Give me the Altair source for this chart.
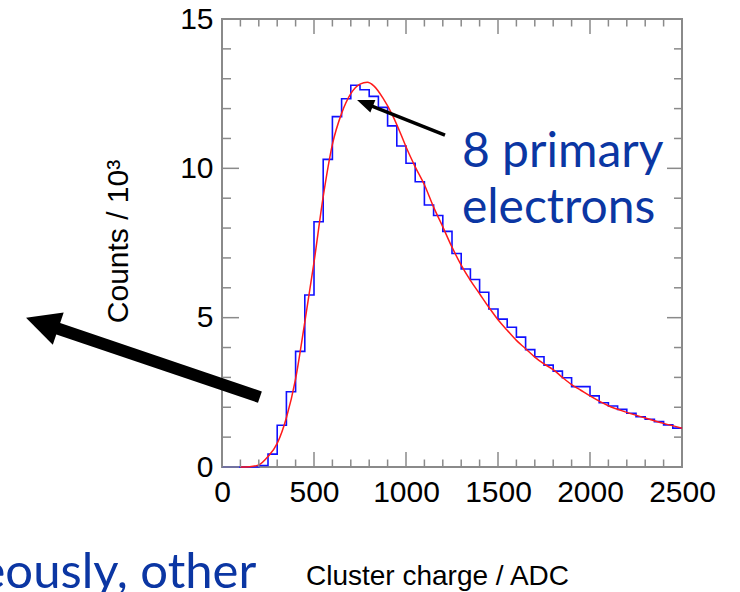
import altair as alt
import pandas as pd

# ---------------- data ----------------
bin_start = [0, 50, 100, 150, 200, 250, 300, 350, 400, 450,
             500, 550, 600, 650, 700, 750, 800, 850, 900, 950,
             1000, 1050, 1100, 1150, 1200, 1250, 1300, 1350, 1400, 1450,
             1500, 1550, 1600, 1650, 1700, 1750, 1800, 1850, 1900, 1950,
             2000, 2050, 2100, 2150, 2200, 2250, 2300, 2350, 2400, 2450]
counts = [0.0, 0.0, 0.0, 0.0, 0.05, 0.43, 1.40, 2.52, 3.87, 5.76,
          8.21, 10.30, 11.73, 12.33, 12.78, 12.63, 12.41, 12.04, 11.42, 10.75,
          10.17, 9.55, 8.77, 8.42, 7.89, 7.15, 6.63, 6.28, 5.85, 5.29,
          4.95, 4.68, 4.35, 3.93, 3.69, 3.41, 3.21, 2.99, 2.69, 2.69,
          2.38, 2.15, 2.04, 1.93, 1.80, 1.68, 1.60, 1.52, 1.41, 1.30]
hist_end = 2500

fit_x = [100, 150, 200, 250, 300, 350, 400, 450, 500, 550,
         600, 650, 700, 750, 790, 825, 875, 925, 975, 1000,
         1050, 1100, 1150, 1200, 1250, 1300, 1350, 1400, 1450, 1500,
         1550, 1600, 1650, 1700, 1750, 1800, 1850, 1900, 1950, 2000,
         2100, 2200, 2300, 2400, 2500]
fit_y = [0.0, 0.01, 0.07, 0.35, 0.79, 1.65, 2.95, 4.85, 6.85, 9.05,
         10.80, 11.84, 12.50, 12.82, 12.88, 12.76, 12.35, 11.80, 11.10, 10.72,
         10.05, 9.45, 8.70, 8.04, 7.36, 6.76, 6.25, 5.80, 5.35, 4.93,
         4.58, 4.24, 3.96, 3.68, 3.45, 3.26, 3.00, 2.76, 2.57, 2.38,
         2.05, 1.83, 1.64, 1.46, 1.30]

x_major_ticks = [0, 500, 1000, 1500, 2000, 2500]
x_minor_ticks = [100, 200, 300, 400, 600, 700, 800, 900, 1100, 1200, 1300, 1400,
                 1600, 1700, 1800, 1900, 2100, 2200, 2300, 2400]
y_major_ticks = [0, 5, 10, 15]
y_minor_ticks = [1, 2, 3, 4, 6, 7, 8, 9, 11, 12, 13, 14]

x_title = "Cluster charge / ADC"
y_title = "Counts / 10³"

# annotation anchors (in data units of the plot)
label_text = ["8 primary", "electrons"]
label_x = [1304, 1304]
label_y = [10.04, 8.17]
side_text = ["eously, other"]
side_x = [-1318]
side_y = [-4.05]

thin_arrow_tail = (1212, 11.11)
thin_arrow_shaft_end = (784, 12.16)
thin_arrow_tip = (734, 12.29)
thick_arrow_tail = (206, 2.34)
thick_arrow_shaft_end = (-962, 4.78)
thick_arrow_tip = (-1065, 5.00)

# ---------------- chart ----------------
W, H = 460, 448
FONT = "Liberation Sans"
BLUE_TXT = "#0b36a3"
FRAME = "#8a8a8a"

xs = alt.Scale(domain=[0, 2500], nice=False, zero=False)
ys = alt.Scale(domain=[0, 15], nice=False, zero=False)

hist_df = pd.DataFrame({"x": bin_start + [hist_end], "y": counts + [counts[-1]]})
fit_df = pd.DataFrame({"x": fit_x, "y": fit_y})

x_axis = alt.Axis(values=x_major_ticks, ticks=False, domain=False, grid=False,
                  labelFont=FONT, labelFontSize=30, labelColor="black",
                  labelPadding=10, labelFlush=False, labelOverlap=False, format="d",
                  title=x_title, titleFont=FONT, titleFontSize=28, titleFontWeight="normal",
                  titleColor="black", titleX=215, titleY=117, titleBaseline="alphabetic")
y_axis = alt.Axis(values=y_major_ticks, ticks=False, domain=False, grid=False,
                  labelFont=FONT, labelFontSize=30, labelColor="black",
                  labelPadding=9, labelFlush=False, labelOverlap=False, format="d",
                  title=y_title, titleFont=FONT, titleFontSize=30, titleFontWeight="normal",
                  titleColor="black", titleX=-95, titleY=222, titleBaseline="alphabetic",
                  titleAngle=270)

X = lambda f="x": alt.X(f"{f}:Q", scale=xs, title=x_title)
Y = lambda f="y": alt.Y(f"{f}:Q", scale=ys, title=y_title)

hist = alt.Chart(hist_df).mark_line(interpolate="step-after", color="#1010ff",
                                    strokeWidth=1.6).encode(
    x=alt.X("x:Q", scale=xs, axis=x_axis),
    y=alt.Y("y:Q", scale=ys, axis=y_axis),
)

fit = alt.Chart(fit_df).mark_line(interpolate="monotone", color="#ff1a1a",
                                  strokeWidth=1.5).encode(x=X(), y=Y())

def xticks(vals, length, top):
    df = pd.DataFrame({"x": vals})
    if top:
        yy, yy2 = alt.value(0), alt.value(length)
    else:
        yy, yy2 = alt.value(H), alt.value(H - length)
    return alt.Chart(df).mark_rule(color=FRAME, strokeWidth=1.5).encode(
        x=X(), y=yy, y2=yy2)

def yticks(vals, length, right):
    df = pd.DataFrame({"y": vals})
    if right:
        xx, xx2 = alt.value(W), alt.value(W - length)
    else:
        xx, xx2 = alt.value(0), alt.value(length)
    return alt.Chart(df).mark_rule(color=FRAME, strokeWidth=1.5).encode(
        y=Y(), x=xx, x2=xx2)

tick_layers = [
    xticks(x_major_ticks, 15, False), xticks(x_minor_ticks, 7.5, False),
    xticks(x_major_ticks, 15, True), xticks(x_minor_ticks, 7.5, True),
    yticks(y_major_ticks, 17, False), yticks(y_minor_ticks, 9, False),
    yticks(y_major_ticks, 15, True), yticks(y_minor_ticks, 8, True),
]

def shaft(tail, end, width):
    df = pd.DataFrame({"x": [tail[0]], "y": [tail[1]], "x2": [end[0]], "y2": [end[1]]})
    return alt.Chart(df).mark_rule(color="black", strokeWidth=width, strokeCap="butt").encode(
        x=X(), y=Y(), x2="x2:Q", y2="y2:Q")

def head(tip, angle, size, path):
    df = pd.DataFrame({"x": [tip[0]], "y": [tip[1]]})
    return alt.Chart(df).mark_point(shape=path, filled=True, color="black", opacity=1,
                                    size=size, angle=angle, strokeWidth=0).encode(
        x=X(), y=Y())

arrows = [
    shaft(thin_arrow_tail, thin_arrow_shaft_end, 3.5),
    head(thin_arrow_tip, 291.7, 289, "M0,0 L0.8,2 L-0.8,2 Z"),
    shaft(thick_arrow_tail, thick_arrow_shaft_end, 12),
    head(thick_arrow_tip, 288.7, 1156, "M0,0 L1,2 L-1,2 Z"),
]

lab_df = pd.DataFrame({"x": label_x, "y": label_y, "t": label_text})
labels = alt.Chart(lab_df).mark_text(align="left", baseline="alphabetic", font="Lato",
                                     fontSize=48, color=BLUE_TXT).encode(
    x=X(), y=Y(), text="t:N")

side_df = pd.DataFrame({"x": side_x, "y": side_y, "t": side_text})
side = alt.Chart(side_df).mark_text(align="left", baseline="alphabetic", font="Lato",
                                    fontSize=49, color=BLUE_TXT).encode(
    x=X(), y=Y(), text="t:N")

chart = alt.layer(hist, fit, *tick_layers, *arrows, labels, side).properties(
    width=W, height=H,
    autosize=alt.AutoSizeParams(type="none"),
    padding={"left": 222, "top": 19, "right": 58, "bottom": 125},
    background="white",
).configure_view(stroke=FRAME, strokeWidth=2)

chart.save("out.html", embed_options={"renderer": "svg", "actions": False})
